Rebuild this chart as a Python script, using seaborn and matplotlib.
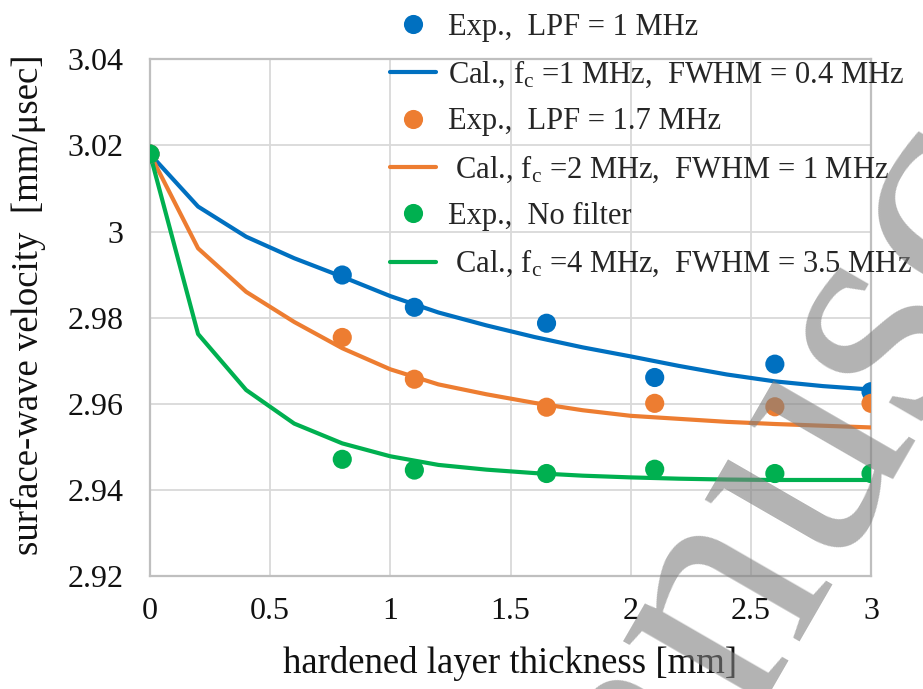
import numpy as np
import pandas as pd
import seaborn as sns
import matplotlib
matplotlib.use("Agg")
import matplotlib.pyplot as plt

# ---------------- data ----------------
exp_x = [0, 0.8, 1.1, 1.65, 2.1, 2.6, 3.0]
exp_lpf1 = [3.018, 2.9899, 2.9824, 2.9787, 2.9661, 2.9692, 2.9628]
exp_lpf17 = [3.018, 2.9754, 2.9657, 2.9592, 2.9601, 2.9593, 2.9601]
exp_nofilter = [3.018, 2.9471, 2.9446, 2.9438, 2.9448, 2.9438, 2.9438]

cal_x = [0, 0.2, 0.4, 0.6, 0.8, 1.0, 1.2, 1.4, 1.6, 1.8, 2.0, 2.2, 2.4, 2.6, 2.8, 3.0]
cal_fc1 = [3.018, 3.0058, 2.9988, 2.9938, 2.9895, 2.9850, 2.9812, 2.9782, 2.9755,
           2.9731, 2.9710, 2.9688, 2.9668, 2.9652, 2.9641, 2.9633]
cal_fc2 = [3.018, 2.9961, 2.9860, 2.9790, 2.9729, 2.9680, 2.9645, 2.9622, 2.9602,
           2.9585, 2.9572, 2.9565, 2.9558, 2.9553, 2.9549, 2.9545]
cal_fc4 = [3.018, 2.9762, 2.9632, 2.9554, 2.9508, 2.9478, 2.9458, 2.9447, 2.9439,
           2.9433, 2.9429, 2.9426, 2.9424, 2.9423, 2.9423, 2.9423]

exp_labels = ["Exp.,  LPF = 1 MHz", "Exp.,  LPF = 1.7 MHz", "Exp.,  No filter"]
cal_labels = ["Cal., f$_\\mathrm{c}$ =1 MHz,  FWHM = 0.4 MHz",
              " Cal., f$_\\mathrm{c}$ =2 MHz,  FWHM = 1 MHz",
              " Cal., f$_\\mathrm{c}$ =4 MHz,  FWHM = 3.5 MHz"]
colors = ["#0070C0", "#ED7D31", "#00B050"]

x_ticks = [0, 0.5, 1, 1.5, 2, 2.5, 3]
x_ticklabels = ["0", "0.5", "1", "1.5", "2", "2.5", "3"]
y_ticks = [2.92, 2.94, 2.96, 2.98, 3.0, 3.02, 3.04]
y_ticklabels = ["2.92", "2.94", "2.96", "2.98", "3", "3.02", "3.04"]

# ---------------- style ----------------
sns.set_theme(style="white")
plt.rcParams["font.family"] = ["Liberation Serif", "DejaVu Serif"]
plt.rcParams["mathtext.fontset"] = "custom"
plt.rcParams["mathtext.rm"] = "Liberation Serif"
plt.rcParams["mathtext.it"] = "Liberation Serif:italic"

W, H = 923, 689
fig = plt.figure(figsize=(W / 100, H / 100), dpi=100)
fig.patch.set_facecolor("white")
ax = fig.add_axes([150 / W, 1 - 576 / H, (871 - 150) / W, (576 - 59.3) / H])

cal_df = pd.DataFrame({"x": cal_x * 3,
                       "y": cal_fc1 + cal_fc2 + cal_fc4,
                       "s": [cal_labels[0]] * len(cal_x) + [cal_labels[1]] * len(cal_x) + [cal_labels[2]] * len(cal_x)})
exp_df = pd.DataFrame({"x": exp_x * 3,
                       "y": exp_lpf1 + exp_lpf17 + exp_nofilter,
                       "s": [exp_labels[0]] * len(exp_x) + [exp_labels[1]] * len(exp_x) + [exp_labels[2]] * len(exp_x)})

sns.lineplot(data=cal_df, x="x", y="y", hue="s", hue_order=cal_labels,
             palette=colors, linewidth=3.0, ax=ax, legend=True, zorder=3)
sns.scatterplot(data=exp_df, x="x", y="y", hue="s", hue_order=exp_labels,
                palette=colors, s=190, edgecolor="none", ax=ax, legend=True, zorder=4)

handles, labels = ax.get_legend_handles_labels()
hmap = dict(zip(labels, handles))
order = [exp_labels[0], cal_labels[0], exp_labels[1], cal_labels[1], exp_labels[2], cal_labels[2]]
ax.legend([hmap[l] for l in order], order, loc="upper left",
          bbox_to_anchor=(372 / W, 1.008), bbox_transform=fig.transFigure,
          frameon=False, fontsize=22, handlelength=1.5, handletextpad=0.38,
          labelspacing=0.56, borderpad=0.1, markerscale=1.0)

ax.set_xlim(0, 3)
ax.set_ylim(2.92, 3.04)
ax.set_xticks(x_ticks)
ax.set_xticklabels(x_ticklabels)
ax.set_yticks(y_ticks)
ax.set_yticklabels(y_ticklabels)
ax.tick_params(axis="both", length=0, labelsize=23, colors="#111111")
ax.tick_params(axis="y", pad=19)
ax.tick_params(axis="x", pad=15)
ax.grid(True, color="#D9D9D9", linewidth=1.3)
ax.set_axisbelow(True)
for sp in ax.spines.values():
    sp.set_color("#BFBFBF")
    sp.set_linewidth(1.6)
    sp.set_visible(True)

ax.set_xlabel("hardened layer thickness [mm]", fontsize=26.5, color="#111111")
ax.set_ylabel("surface-wave velocity  [mm/\u03bcsec]", fontsize=26.5, color="#111111")
ax.xaxis.set_label_coords(0.5, -0.135)
ax.yaxis.set_label_coords(-0.144, 0.524)

# watermark
fig.text(525 / W, 1 - 1100 / H, "Manuscript", fontsize=240, rotation=60,
         rotation_mode="anchor", ha="left", va="baseline", color="gray",
         alpha=0.6, zorder=10)

fig.savefig("out.png", dpi=100, facecolor="white")
